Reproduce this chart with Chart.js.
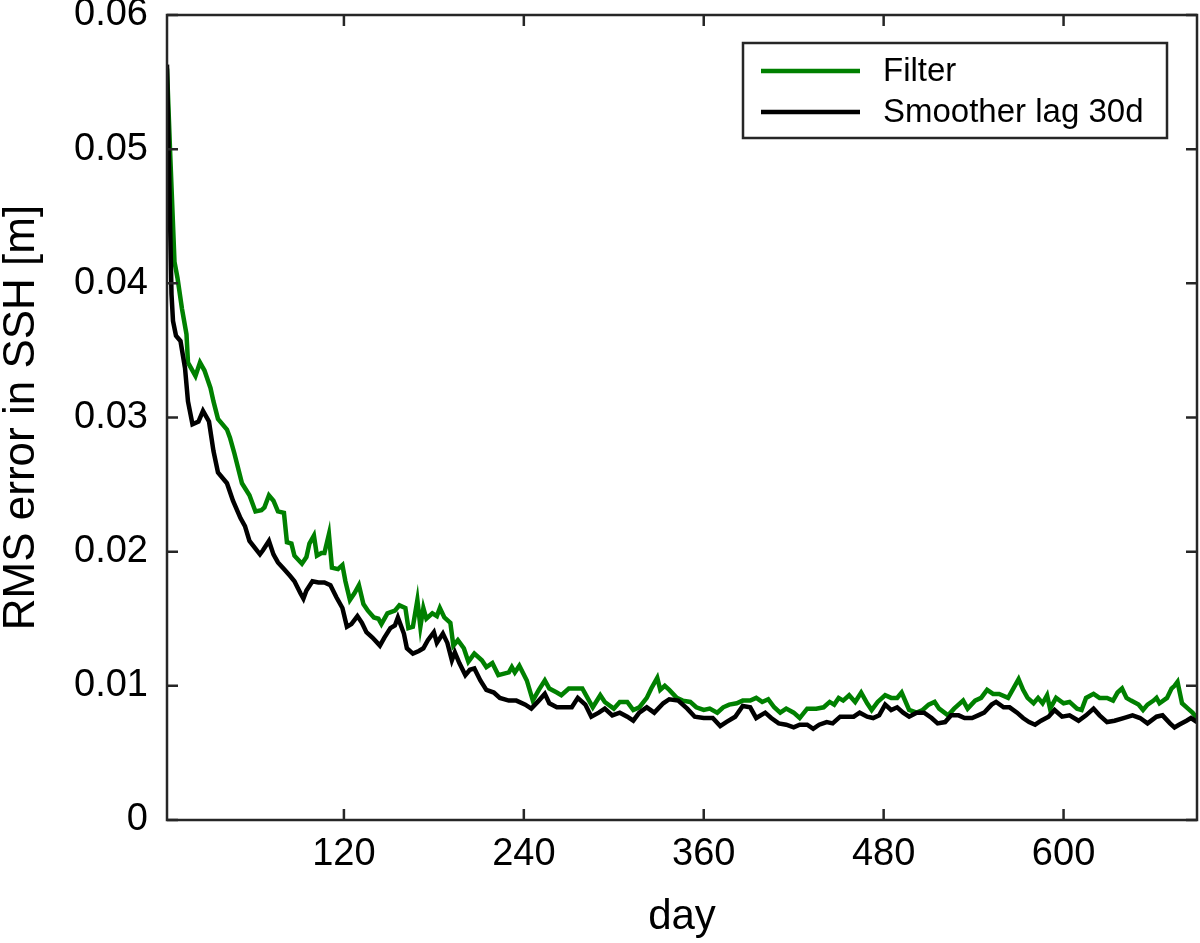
<!DOCTYPE html>
<html>
<head>
<meta charset="utf-8">
<title>RMS error in SSH</title>
<script src="https://cdn.jsdelivr.net/npm/chart.js@4.4.1/dist/chart.umd.min.js"></script>
<style>
  body { margin: 0; background: #fff; }
  canvas { display: block; }
</style>
</head>
<body>
<canvas id="rmsChart" width="1200" height="943"></canvas>
<script>
// values (day, RMS error in metres)
const filterDays = [2, 4, 7, 9, 12, 15, 16, 21, 24, 27, 31, 33, 36, 42, 44, 47, 52, 57, 61, 65, 67, 70, 73, 76, 80, 82, 85, 87, 92, 95, 97, 100, 102, 105, 107, 110, 112, 116, 119, 121, 124, 127, 130, 133, 136, 140, 143, 145, 149, 154, 157, 161, 163, 166, 169, 171, 173, 175, 179, 182, 184, 187, 191, 193, 196, 200, 203, 207, 212, 215, 219, 223, 230, 232, 234, 237, 242, 246, 250, 254, 257, 262, 265, 270, 274, 279, 281, 286, 291, 294, 300, 304, 309, 313, 317, 322, 325, 329, 331, 334, 337, 342, 346, 351, 355, 360, 364, 369, 373, 377, 382, 386, 391, 395, 399, 403, 407, 411, 415, 420, 424, 429, 435, 440, 444, 447, 450, 453, 457, 461, 465, 469, 472, 476, 481, 485, 489, 492, 497, 502, 506, 510, 514, 517, 523, 527, 533, 536, 541, 545, 549, 553, 557, 563, 566, 570, 573, 576, 580, 583, 586, 589, 591, 595, 600, 604, 609, 612, 615, 620, 624, 629, 633, 636, 639, 642, 645, 650, 653, 656, 660, 662, 664, 669, 672, 674, 676, 679, 683, 686, 689];
const filterRms = [0.0560, 0.0500, 0.0416, 0.0404, 0.0381, 0.0362, 0.0341, 0.0331, 0.0341, 0.0335, 0.0322, 0.0312, 0.0299, 0.0291, 0.0285, 0.0273, 0.0251, 0.0242, 0.0230, 0.0231, 0.0233, 0.0242, 0.0238, 0.0230, 0.0229, 0.0207, 0.0206, 0.0197, 0.0191, 0.0196, 0.0206, 0.0212, 0.0197, 0.0199, 0.0199, 0.0213, 0.0188, 0.0187, 0.0190, 0.0178, 0.0164, 0.0169, 0.0175, 0.0161, 0.0156, 0.0151, 0.0150, 0.0146, 0.0154, 0.0156, 0.0160, 0.0158, 0.0143, 0.0144, 0.0164, 0.0144, 0.0158, 0.0150, 0.0154, 0.0152, 0.0158, 0.0151, 0.0147, 0.0130, 0.0134, 0.0128, 0.0118, 0.0124, 0.0119, 0.0114, 0.0117, 0.0108, 0.0110, 0.0114, 0.0110, 0.0115, 0.0104, 0.0089, 0.0097, 0.0104, 0.0098, 0.0095, 0.0093, 0.0098, 0.0098, 0.0098, 0.0094, 0.0084, 0.0093, 0.0088, 0.0083, 0.0088, 0.0088, 0.0082, 0.0084, 0.0091, 0.0098, 0.0106, 0.0097, 0.0100, 0.0097, 0.0091, 0.0089, 0.0088, 0.0084, 0.0082, 0.0083, 0.0080, 0.0084, 0.0086, 0.0087, 0.0089, 0.0089, 0.0091, 0.0088, 0.0090, 0.0084, 0.0080, 0.0083, 0.0080, 0.0076, 0.0083, 0.0083, 0.0084, 0.0088, 0.0086, 0.0091, 0.0089, 0.0093, 0.0088, 0.0095, 0.0087, 0.0082, 0.0088, 0.0093, 0.0091, 0.0091, 0.0095, 0.0082, 0.0080, 0.0082, 0.0086, 0.0088, 0.0083, 0.0078, 0.0083, 0.0089, 0.0083, 0.0089, 0.0091, 0.0097, 0.0094, 0.0094, 0.0091, 0.0097, 0.0105, 0.0097, 0.0091, 0.0087, 0.0091, 0.0087, 0.0093, 0.0083, 0.0091, 0.0087, 0.0088, 0.0083, 0.0082, 0.0091, 0.0094, 0.0091, 0.0091, 0.0089, 0.0095, 0.0098, 0.0091, 0.0089, 0.0086, 0.0082, 0.0086, 0.0089, 0.0091, 0.0087, 0.0091, 0.0098, 0.0100, 0.0103, 0.0087, 0.0083, 0.0080, 0.0076];

const smootherDays = [2, 5, 6, 8, 11, 14, 16, 19, 23, 26, 30, 33, 36, 42, 46, 51, 54, 57, 64, 66, 70, 73, 76, 80, 84, 87, 91, 93, 95, 99, 103, 107, 111, 115, 119, 122, 125, 129, 132, 135, 139, 144, 147, 151, 154, 156, 160, 162, 166, 170, 173, 176, 180, 182, 186, 189, 192, 194, 197, 201, 204, 207, 211, 215, 220, 224, 230, 235, 241, 245, 250, 254, 257, 262, 267, 272, 276, 281, 285, 290, 294, 299, 304, 309, 313, 317, 322, 327, 333, 337, 343, 349, 354, 360, 366, 371, 375, 381, 386, 391, 395, 401, 405, 410, 415, 420, 424, 429, 433, 437, 442, 446, 451, 455, 460, 464, 469, 473, 477, 481, 485, 489, 493, 497, 502, 507, 512, 516, 521, 525, 530, 534, 539, 543, 547, 552, 555, 560, 564, 569, 573, 577, 581, 585, 590, 594, 599, 604, 610, 615, 620, 624, 629, 634, 640, 646, 651, 656, 662, 666, 671, 674, 677, 682, 685, 689];
const smootherRms = [0.0563, 0.0392, 0.0372, 0.0361, 0.0357, 0.0337, 0.0312, 0.0295, 0.0297, 0.0305, 0.0297, 0.0275, 0.0259, 0.0251, 0.0238, 0.0225, 0.0219, 0.0208, 0.0198, 0.0201, 0.0208, 0.0198, 0.0192, 0.0187, 0.0182, 0.0178, 0.0169, 0.0165, 0.0171, 0.0178, 0.0177, 0.0177, 0.0175, 0.0166, 0.0158, 0.0144, 0.0146, 0.0152, 0.0147, 0.0140, 0.0136, 0.0130, 0.0136, 0.0143, 0.0145, 0.0151, 0.0139, 0.0128, 0.0124, 0.0126, 0.0128, 0.0134, 0.0140, 0.0132, 0.0139, 0.0132, 0.0119, 0.0125, 0.0117, 0.0108, 0.0112, 0.0113, 0.0104, 0.0097, 0.0095, 0.0091, 0.0089, 0.0089, 0.0086, 0.0083, 0.0089, 0.0094, 0.0087, 0.0084, 0.0084, 0.0084, 0.0091, 0.0086, 0.0077, 0.0080, 0.0083, 0.0078, 0.0080, 0.0077, 0.0074, 0.0080, 0.0084, 0.0080, 0.0087, 0.0090, 0.0089, 0.0083, 0.0077, 0.0076, 0.0076, 0.0070, 0.0073, 0.0077, 0.0085, 0.0084, 0.0076, 0.0080, 0.0076, 0.0072, 0.0071, 0.0069, 0.0071, 0.0071, 0.0068, 0.0071, 0.0073, 0.0072, 0.0077, 0.0077, 0.0077, 0.0080, 0.0077, 0.0076, 0.0078, 0.0086, 0.0082, 0.0084, 0.0080, 0.0077, 0.0080, 0.0080, 0.0076, 0.0072, 0.0073, 0.0078, 0.0078, 0.0076, 0.0076, 0.0078, 0.0080, 0.0086, 0.0088, 0.0084, 0.0084, 0.0080, 0.0076, 0.0073, 0.0071, 0.0074, 0.0077, 0.0082, 0.0077, 0.0078, 0.0074, 0.0078, 0.0083, 0.0078, 0.0073, 0.0074, 0.0076, 0.0078, 0.0076, 0.0072, 0.0077, 0.0078, 0.0072, 0.0069, 0.0071, 0.0074, 0.0076, 0.0073];

const xTickValues = [120, 240, 360, 480, 600];
const yTickValues = [0, 0.01, 0.02, 0.03, 0.04, 0.05, 0.06];
const seriesLabels = ['Filter', 'Smoother lag 30d'];

const FONT = '"Liberation Sans", Helvetica, Arial, sans-serif';
const AXIS_COLOR = '#262626';

function toPoints(days, values) {
    return days.map((d, i) => ({ x: d, y: values[i] }));
}

// MATLAB style box with inward ticks on all four sides
const boxAxes = {
    id: 'boxAxes',
    afterDatasetsDraw(chart) {
        const { ctx, chartArea: a, scales } = chart;
        const len = 11;
        ctx.save();
        ctx.strokeStyle = AXIS_COLOR;
        ctx.lineWidth = 2.5;
        ctx.beginPath();
        scales.x.ticks.forEach(t => {
            const px = scales.x.getPixelForValue(t.value);
            ctx.moveTo(px, a.bottom); ctx.lineTo(px, a.bottom - len);
            ctx.moveTo(px, a.top); ctx.lineTo(px, a.top + len);
        });
        scales.y.ticks.forEach(t => {
            const py = scales.y.getPixelForValue(t.value);
            ctx.moveTo(a.left, py); ctx.lineTo(a.left + len, py);
            ctx.moveTo(a.right, py); ctx.lineTo(a.right - len, py);
        });
        ctx.stroke();
        ctx.strokeRect(a.left, a.top, a.right - a.left, a.bottom - a.top);
        ctx.restore();
    }
};

// boxed legend in the upper right corner
const boxLegend = {
    id: 'boxLegend',
    afterDraw(chart) {
        const { ctx, chartArea: a } = chart;
        const x0 = a.right - 454, y0 = a.top + 28, w = 424, h = 95;
        ctx.save();
        ctx.fillStyle = '#fff';
        ctx.fillRect(x0, y0, w, h);
        ctx.strokeStyle = AXIS_COLOR;
        ctx.lineWidth = 2.5;
        ctx.strokeRect(x0, y0, w, h);
        ctx.font = '33px ' + FONT;
        ctx.textBaseline = 'middle';
        chart.data.datasets.forEach((ds, i) => {
            const yy = y0 + 28 + i * 41;
            ctx.strokeStyle = ds.borderColor;
            ctx.lineWidth = 4.5;
            ctx.beginPath();
            ctx.moveTo(x0 + 18, yy);
            ctx.lineTo(x0 + 117, yy);
            ctx.stroke();
            ctx.fillStyle = '#000';
            ctx.fillText(ds.label, x0 + 140, yy + 1);
        });
        ctx.restore();
    }
};

const ctx = document.getElementById('rmsChart').getContext('2d');
const rmsChart = new Chart(ctx, {
    type: 'line',
    data: {
        datasets: [{
            label: seriesLabels[0],
            data: toPoints(filterDays, filterRms),
            borderColor: '#008000',
            borderWidth: 4.5,
            pointRadius: 0,
            tension: 0,
            order: 1
        }, {
            label: seriesLabels[1],
            data: toPoints(smootherDays, smootherRms),
            borderColor: '#000000',
            borderWidth: 4.5,
            pointRadius: 0,
            tension: 0,
            order: 0
        }]
    },
    options: {
        responsive: false,
        animation: false,
        devicePixelRatio: 1,
        layout: { padding: { top: 15, right: 3, left: 0, bottom: 0 } },
        plugins: {
            legend: { display: false },
            tooltip: { enabled: false }
        },
        scales: {
            x: {
                type: 'linear',
                min: 2,
                max: 689,
                grid: { display: false, drawTicks: false },
                border: { display: false },
                afterBuildTicks(scale) {
                    scale.ticks = xTickValues.map(v => ({ value: v }));
                },
                afterFit(scale) {
                    scale.height = 123;
                    scale.paddingLeft = 0;
                    scale.paddingRight = 0;
                },
                ticks: {
                    color: '#000',
                    padding: 12,
                    font: { family: FONT, size: 38 },
                    maxRotation: 0,
                    callback: v => String(v)
                },
                title: {
                    display: true,
                    text: 'day',
                    color: '#000',
                    font: { family: FONT, size: 42 },
                    padding: { top: 4, bottom: 0 }
                }
            },
            y: {
                type: 'linear',
                min: 0,
                max: 0.06,
                grid: { display: false, drawTicks: false },
                border: { display: false },
                afterBuildTicks(scale) {
                    scale.ticks = yTickValues.map(v => ({ value: v }));
                },
                afterFit(scale) {
                    scale.width = 167;
                    scale.paddingTop = 0;
                    scale.paddingBottom = 0;
                },
                ticks: {
                    color: '#000',
                    padding: 19,
                    font: { family: FONT, size: 38 },
                    callback: v => (v === 0 ? '0' : v.toFixed(2))
                },
                title: {
                    display: true,
                    text: 'RMS error in SSH [m]',
                    color: '#000',
                    font: { family: FONT, size: 44, lineHeight: 1.0 },
                    padding: { top: 0, bottom: 0 }
                }
            }
        }
    },
    plugins: [boxAxes, boxLegend]
});
</script>
</body>
</html>
